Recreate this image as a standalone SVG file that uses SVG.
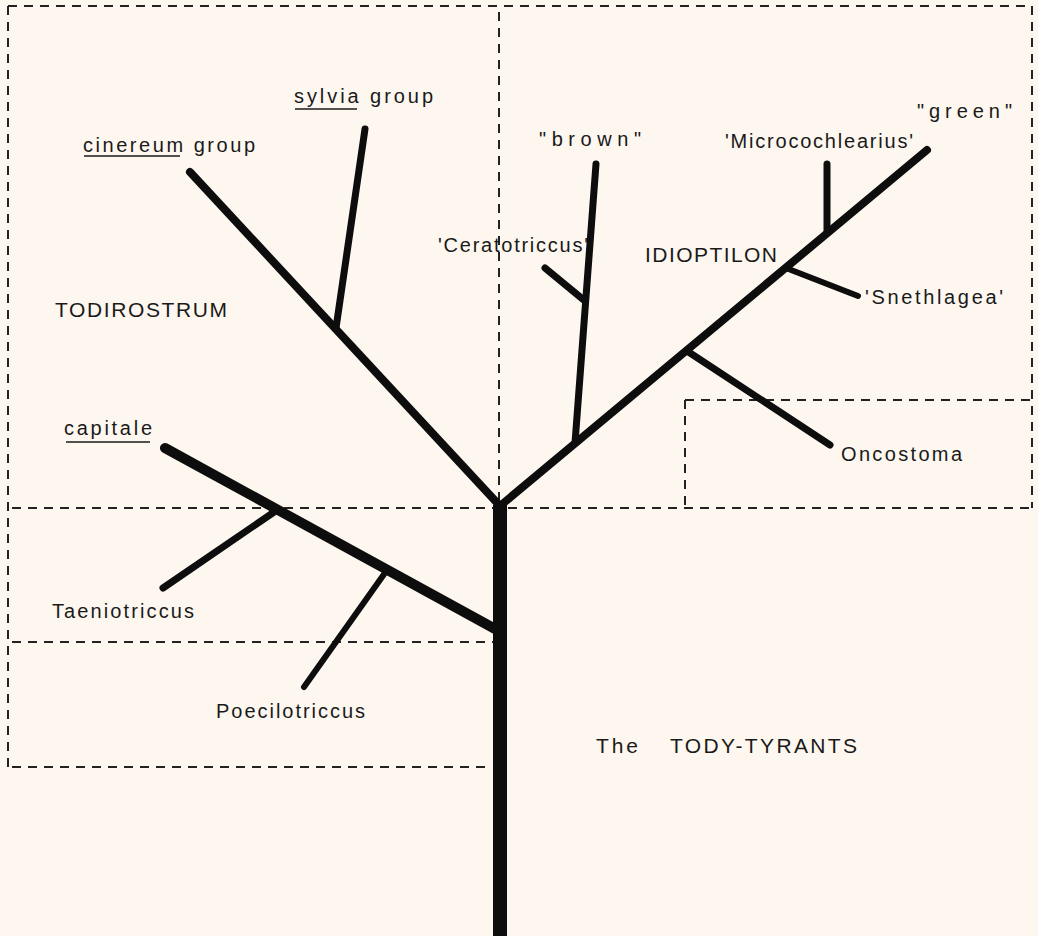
<svg xmlns="http://www.w3.org/2000/svg" width="1038" height="936" viewBox="0 0 1038 936">
<style>
.bg{fill:#fdf7f0}
.dash{fill:none;stroke:#222;stroke-width:2;stroke-dasharray:9 7}
.br{fill:none;stroke:#0d0d0d;stroke-linecap:round}
.t{font-family:"Liberation Sans",Arial,sans-serif;font-size:20px;fill:#1a1a1a}
.c{font-size:21px}
.ul{stroke:#1a1a1a;stroke-width:1.6}
</style>
<rect class="bg" x="0" y="0" width="1038" height="936"/>
<g id="regions">
<line class="dash" x1="8" y1="6" x2="1032" y2="6"/>
<line class="dash" x1="8" y1="6" x2="8" y2="767"/>
<line class="dash" x1="499" y1="12" x2="499" y2="505"/>
<line class="dash" x1="1032" y1="6" x2="1032" y2="508"/>
<line class="dash" x1="12" y1="508" x2="1032" y2="508"/>
<line class="dash" x1="12" y1="642" x2="493" y2="642"/>
<line class="dash" x1="12" y1="767" x2="488" y2="767"/>
<line class="dash" x1="685" y1="400" x2="1032" y2="400"/>
<line class="dash" x1="685" y1="400" x2="685" y2="505"/>
</g>
<g id="connectors">
<line x1="500" y1="505" x2="500" y2="936" stroke="#0d0d0d" stroke-width="14"/>
<line class="br" x1="500" y1="506" x2="190" y2="172" stroke-width="8"/>
<line class="br" x1="336" y1="328" x2="365" y2="129" stroke-width="7"/>
<line class="br" x1="500" y1="506" x2="927" y2="150" stroke-width="8"/>
<line class="br" x1="575" y1="443" x2="596" y2="164" stroke-width="7"/>
<line class="br" x1="585" y1="301" x2="545" y2="268" stroke-width="7"/>
<line class="br" x1="827" y1="233" x2="827" y2="164" stroke-width="7"/>
<line class="br" x1="786" y1="268" x2="858" y2="296" stroke-width="6"/>
<line class="br" x1="687" y1="351" x2="830" y2="445" stroke-width="7"/>
<line class="br" x1="497" y1="630" x2="165" y2="448" stroke-width="10"/>
<line class="br" x1="277" y1="510" x2="163" y2="588" stroke-width="7"/>
<line class="br" x1="387" y1="570" x2="304" y2="687" stroke-width="6"/>
</g>
<g id="node-sylvia"><text class="t" x="294" y="103" textLength="139" lengthAdjust="spacing">sylvia group</text><line class="ul" x1="295" y1="109" x2="357" y2="109"/></g>
<g id="node-cinereum"><text class="t" x="83" y="152" textLength="172" lengthAdjust="spacing">cinereum group</text><line class="ul" x1="84" y1="156" x2="180" y2="156"/></g>
<g id="node-todirostrum"><text class="t c" x="55" y="317" textLength="172" lengthAdjust="spacing">TODIROSTRUM</text></g>
<g id="node-capitale"><text class="t" x="64" y="435" textLength="88" lengthAdjust="spacing">capitale</text><line class="ul" x1="66" y1="442" x2="150" y2="442"/></g>
<g id="node-taeniotriccus"><text class="t" x="52" y="618" textLength="142" lengthAdjust="spacing">Taeniotriccus</text></g>
<g id="node-poecilotriccus"><text class="t" x="216" y="718" textLength="149" lengthAdjust="spacing">Poecilotriccus</text></g>
<g id="node-title"><text class="t c" x="596" y="753" textLength="42" lengthAdjust="spacing">The</text><text class="t c" x="670" y="753" textLength="187" lengthAdjust="spacing">TODY-TYRANTS</text></g>
<g id="node-brown"><text class="t" x="539" y="146" textLength="102" lengthAdjust="spacing">"brown"</text></g>
<g id="node-microcochlearius"><text class="t" x="725" y="148" textLength="188" lengthAdjust="spacing">'Microcochlearius'</text></g>
<g id="node-green"><text class="t" x="917" y="118" textLength="95" lengthAdjust="spacing">"green"</text></g>
<g id="node-ceratotriccus"><text class="t" x="438" y="252" textLength="150" lengthAdjust="spacing">'Ceratotriccus'</text></g>
<g id="node-idioptilon"><text class="t c" x="645" y="262" textLength="132" lengthAdjust="spacing">IDIOPTILON</text></g>
<g id="node-snethlagea"><text class="t" x="865" y="304" textLength="138" lengthAdjust="spacing">'Snethlagea'</text></g>
<g id="node-oncostoma"><text class="t" x="841" y="461" textLength="121" lengthAdjust="spacing">Oncostoma</text></g>
</svg>
